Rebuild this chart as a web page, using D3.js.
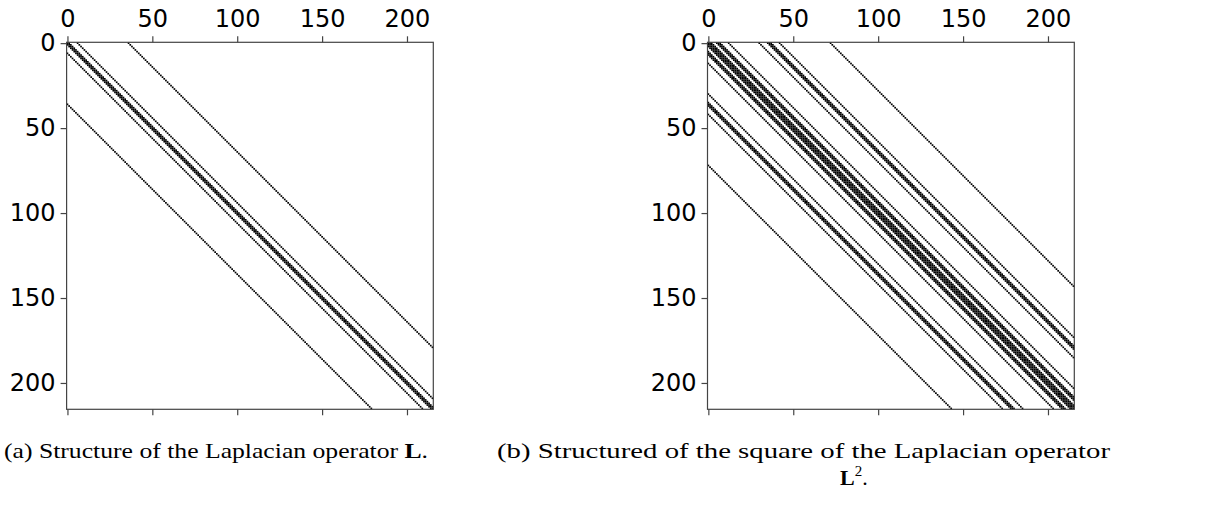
<!DOCTYPE html>
<html>
<head>
<meta charset="utf-8">
<script src="https://cdn.jsdelivr.net/npm/d3@7"></script>
<style>
  html, body { margin: 0; padding: 0; background: #fff; }
  svg { display: block; }
  .tick text { font-family: "DejaVu Sans", sans-serif; font-size: 24px; fill: #000; }
  .tick line { stroke: #444; stroke-width: 1.2px; }
  .cap { font-family: "Liberation Serif", "DejaVu Serif", serif; font-size: 22px; fill: #000; }
</style>
</head>
<body>
<script>
// ---- data ----
const size = 216;                                   // matrix dimension (6 x 6 x 6 grid)
const diagOffsetsL = [-36, -6, -1, 0, 1, 6, 36];    // non-zero diagonals of L
const tickValues = [0, 50, 100, 150, 200];
const captionA = ["(a) Structure of the Laplacian operator ", "L", "."];
const captionB1 = "(b) Structured of the square of the Laplacian operator";
const captionB2 = ["L", "2", "."];

// ---- sparsity structure of L and L^2 ----
const n = size;
const L = d3.range(n).map(r =>
  diagOffsetsL.map(o => r + o).filter(c => c >= 0 && c < n));
const L2 = L.map(cols => {
  const s = new Set();
  cols.forEach(c => L[c].forEach(c2 => s.add(c2)));
  return Array.from(s);
});
function toPoints(rows) {
  const pts = [];
  rows.forEach((cols, r) => cols.forEach(c => pts.push({ r, c })));
  return pts;
}
const ptsL = toPoints(L);
const ptsL2 = toPoints(L2);

// ---- drawing ----
const W = 1219, H = 505;
const svg = d3.select("body").append("svg").attr("width", W).attr("height", H);

function panel(pts, x0, x1, y0, y1) {
  const x = d3.scaleLinear().domain([-0.5, n - 0.5]).range([x0, x1]);
  const y = d3.scaleLinear().domain([-0.5, n - 0.5]).range([y0, y1]);
  const cw = Math.abs(x(1) - x(0)), ch = Math.abs(y(1) - y(0));
  const g = svg.append("g");
  g.append("g").selectAll("rect").data(pts).join("rect")
    .attr("x", d => x(d.c) - cw / 2)
    .attr("y", d => y(d.r) - ch / 2)
    .attr("width", cw).attr("height", ch)
    .attr("fill", "#000");
  const top = g.append("g").attr("transform", `translate(0,${y0})`)
    .call(d3.axisTop(x).tickValues(tickValues).tickSize(6).tickPadding(9).tickFormat(d3.format("d")));
  const left = g.append("g").attr("transform", `translate(${x0},0)`)
    .call(d3.axisLeft(y).tickValues(tickValues).tickSize(6).tickPadding(5).tickFormat(d3.format("d")));
  const bottom = g.append("g").attr("transform", `translate(0,${y1})`)
    .call(d3.axisBottom(x).tickValues(tickValues).tickSize(6).tickFormat(""));
  [top, left, bottom].forEach(a => a.select(".domain").remove());
  g.append("rect").attr("x", x0).attr("y", y0).attr("width", x1 - x0).attr("height", y1 - y0)
    .attr("fill", "none").attr("stroke", "#444").attr("stroke-width", 1.2);
}

panel(ptsL, 66.6, 433.3, 42.3, 409.3);
panel(ptsL2, 707.5, 1074.3, 42.3, 409.3);

// ---- captions ----
const ta = svg.append("text").attr("class", "cap").attr("x", 4).attr("y", 458)
  .attr("textLength", 424).attr("lengthAdjust", "spacingAndGlyphs");
ta.append("tspan").text(captionA[0]);
ta.append("tspan").attr("font-weight", "bold").text(captionA[1]);
ta.append("tspan").text(captionA[2]);

svg.append("text").attr("class", "cap").attr("x", 497).attr("y", 458)
  .attr("textLength", 613).attr("lengthAdjust", "spacingAndGlyphs").text(captionB1);

const tb = svg.append("text").attr("class", "cap").attr("x", 840).attr("y", 485);
tb.append("tspan").attr("font-weight", "bold").text(captionB2[0]);
tb.append("tspan").attr("font-size", "15px").attr("dy", -9).text(captionB2[1]);
tb.append("tspan").attr("dy", 9).text(captionB2[2]);
</script>
</body>
</html>
